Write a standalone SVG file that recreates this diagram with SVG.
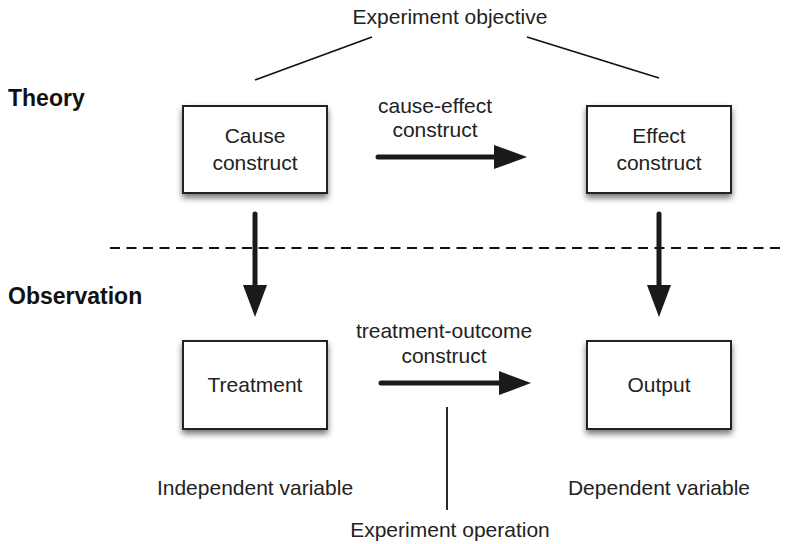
<svg xmlns="http://www.w3.org/2000/svg" width="786" height="544" viewBox="0 0 786 544">
<style>
text{font-family:"Liberation Sans",Arial,Helvetica,sans-serif;font-size:21px;fill:#222;}
.c{text-anchor:middle;}
.b{font-weight:bold;font-size:23px;fill:#111;}
.box{fill:#fff;stroke:#222;stroke-width:2;}
.thin{stroke:#111;stroke-width:1.8;fill:none;}
.shaft{stroke:#1a1a1a;stroke-width:5;stroke-linecap:round;fill:none;}
.head{fill:#1a1a1a;}
</style>
<defs>
<filter id="sh" x="-20%" y="-20%" width="140%" height="150%">
<feGaussianBlur in="SourceAlpha" stdDeviation="3"/>
<feOffset dx="0" dy="4" result="o"/>
<feComponentTransfer><feFuncA type="linear" slope="0.55"/></feComponentTransfer>
<feMerge><feMergeNode/><feMergeNode in="SourceGraphic"/></feMerge>
</filter>
</defs>
<rect width="786" height="544" fill="#fff"/>
<text class="b" x="8" y="106">Theory</text>
<text class="b" x="8" y="304">Observation</text>
<text class="c" x="450" y="24">Experiment objective</text>
<g id="connectors">
<line class="thin" x1="255" y1="80" x2="372" y2="37"/>
<line class="thin" x1="527" y1="37" x2="659" y2="78"/>
<line x1="110" y1="248" x2="782" y2="248" stroke="#111" stroke-width="2" stroke-dasharray="10,6.5"/>
<line class="shaft" x1="378" y1="157" x2="498" y2="157"/>
<polygon class="head" points="494,145 527,157 494,169"/>
<text class="c" x="435" y="113">cause-effect</text>
<text class="c" x="435" y="137">construct</text>
<line class="shaft" x1="255" y1="214" x2="255" y2="290"/>
<polygon class="head" points="243,285 255,317 267,285"/>
<line class="shaft" x1="659" y1="214" x2="659" y2="290"/>
<polygon class="head" points="647,285 659,317 671,285"/>
<line class="shaft" x1="381" y1="383" x2="502" y2="383"/>
<polygon class="head" points="499,371 531,383 499,395"/>
<text class="c" x="444" y="338">treatment-outcome</text>
<text class="c" x="444" y="363">construct</text>
<line class="thin" x1="447" y1="407" x2="447" y2="510"/>
<text class="c" x="450" y="537">Experiment operation</text>
</g>
<g id="cause">
<rect class="box" x="183" y="106" width="144" height="87" filter="url(#sh)"/>
<text class="c" x="255" y="143">Cause</text>
<text class="c" x="255" y="170">construct</text>
</g>
<g id="effect">
<rect class="box" x="587" y="106" width="144" height="87" filter="url(#sh)"/>
<text class="c" x="659" y="143">Effect</text>
<text class="c" x="659" y="170">construct</text>
</g>
<g id="treatment">
<rect class="box" x="183" y="341" width="144" height="88" filter="url(#sh)"/>
<text class="c" x="255" y="392">Treatment</text>
</g>
<g id="output">
<rect class="box" x="587" y="341" width="144" height="88" filter="url(#sh)"/>
<text class="c" x="659" y="392">Output</text>
</g>
<text class="c" x="255" y="495">Independent variable</text>
<text class="c" x="659" y="495">Dependent variable</text>
</svg>
